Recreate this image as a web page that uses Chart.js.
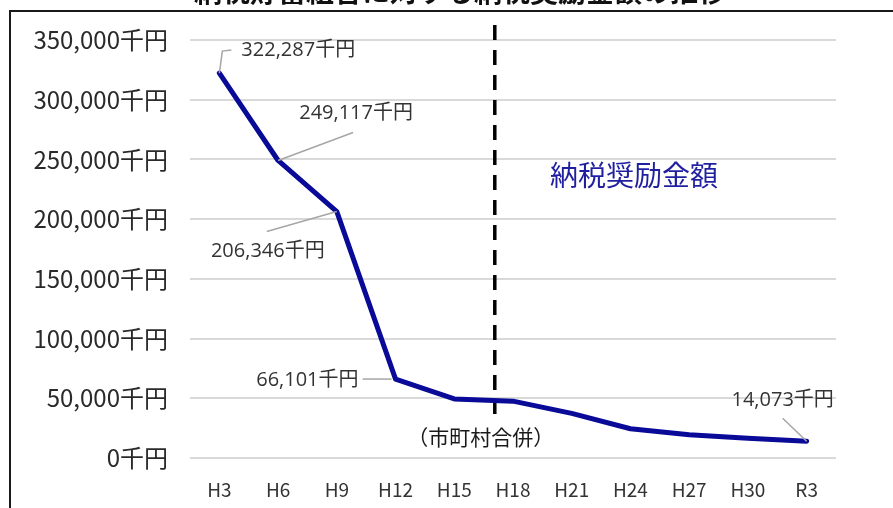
<!DOCTYPE html>
<html>
<head>
<meta charset="utf-8">
<script src="https://cdn.jsdelivr.net/npm/chart.js@4"></script>
<style>
html,body{margin:0;padding:0;background:#fff;}
#wrap{width:893px;height:508px;position:relative;}
</style>
</head>
<body>
<div id="wrap"><canvas id="c" width="893" height="508"></canvas></div>
<script>
// ---- data ----
const categories = ['H3','H6','H9','H12','H15','H18','H21','H24','H27','H30','R3'];
const amounts = [322287, 249117, 206346, 66101, 49500, 47600, 37400, 24500, 19500, 16500, 14073];
const yTickValues = [0, 50000, 100000, 150000, 200000, 250000, 300000, 350000];
const labeledIndexes = [0, 1, 2, 3, 10];
const seriesName = '納税奨励金額';
const mergerLabel = '（市町村合併）';
const mergerPosition = 4.69; // position on category axis (between H15 and H18)
const titleText = '納税貯蓄組合に対する納税奨励金額の推移';
const unit = '千円';

// ---- label layout (offsets from the data point, in px) ----
const labelLayout = {
  0: {leader: [[0,0],[3,-22],[12,-23]], text: [22,-23], align: 'left'},
  1: {leader: [[0,0],[75,-28]], text: [78,-47], align: 'center'},
  2: {leader: [[0,0],[-70,20]], text: [-69,40], align: 'center'},
  3: {leader: [[-33,0],[-4,0]], text: [-37,1], align: 'right'},
  10: {leader: [[0,0],[-24,-23]], text: [-24,-41], align: 'center'}
};

const fmt = v => v.toLocaleString('en-US') + unit;
const CJK = '"Noto Sans CJK JP", "Noto Sans", sans-serif';

const decorPlugin = {
  id: 'decor',
  beforeDraw(chart) {
    const ctx = chart.ctx;
    ctx.save();
    ctx.fillStyle = '#ffffff';
    ctx.fillRect(0, 0, chart.width, chart.height);
    // clipped title
    ctx.fillStyle = '#111111';
    ctx.font = 'bold 28px ' + CJK;
    ctx.textAlign = 'center';
    ctx.textBaseline = 'ideographic';
    ctx.fillText(titleText, 460, 5);
    // frame
    ctx.fillStyle = '#ffffff';
    ctx.fillRect(0, 10, chart.width, chart.height);
    ctx.strokeStyle = '#1a1a1a';
    ctx.lineWidth = 2;
    ctx.beginPath();
    ctx.moveTo(10, chart.height + 2);
    ctx.lineTo(10, 11);
    ctx.lineTo(chart.width + 2, 11);
    ctx.stroke();
    ctx.restore();
  },
  beforeDatasetsDraw(chart) {
    const ctx = chart.ctx;
    const xs = chart.scales.x;
    const x = xs.getPixelForValue(mergerPosition);
    ctx.save();
    ctx.strokeStyle = '#000000';
    ctx.lineWidth = 3.5;
    ctx.setLineDash([15, 10]);
    ctx.beginPath();
    ctx.moveTo(x, 25);
    ctx.lineTo(x, 414);
    ctx.stroke();
    ctx.setLineDash([]);
    // merger label
    ctx.fillStyle = '#1a1a1a';
    ctx.font = '21px ' + CJK;
    ctx.textAlign = 'center';
    ctx.textBaseline = 'middle';
    ctx.fillText(mergerLabel, x - 14, 437);
    // series annotation
    ctx.fillStyle = '#1f1f9f';
    ctx.font = '28px ' + CJK;
    ctx.fillText(seriesName, 634, 175);
    ctx.restore();
  },
  afterDatasetsDraw(chart) {
    const ctx = chart.ctx;
    const meta = chart.getDatasetMeta(0);
    ctx.save();
    labeledIndexes.forEach(i => {
      const p = meta.data[i];
      const L = labelLayout[i];
      ctx.strokeStyle = '#a6a6a6';
      ctx.lineWidth = 1.5;
      ctx.beginPath();
      L.leader.forEach((o, k) => {
        if (k === 0) ctx.moveTo(p.x + o[0], p.y + o[1]);
        else ctx.lineTo(p.x + o[0], p.y + o[1]);
      });
      ctx.stroke();
      ctx.fillStyle = '#333333';
      ctx.font = '20px "Open Sans", "Noto Sans CJK JP", sans-serif';
      ctx.textAlign = L.align;
      ctx.textBaseline = 'middle';
      ctx.fillText(fmt(amounts[i]), p.x + L.text[0], p.y + L.text[1]);
    });
    ctx.restore();
  }
};

new Chart(document.getElementById('c'), {
  type: 'line',
  data: {
    labels: categories,
    datasets: [{
      label: seriesName,
      data: amounts,
      borderColor: '#0a0a98',
      borderWidth: 5,
      pointRadius: 0,
      tension: 0,
      borderJoinStyle: 'round',
      borderCapStyle: 'round',
      fill: false
    }]
  },
  options: {
    responsive: false,
    animation: false,
    layout: {padding: {left: 0, right: 57, top: 40, bottom: 0}},
    plugins: {legend: {display: false}, tooltip: {enabled: false}, title: {display: false}},
    scales: {
      x: {
        type: 'category',
        offset: true,
        grid: {display: false, drawTicks: false},
        border: {display: false},
        ticks: {padding: 20, color: '#333333', font: {family: CJK, size: 19}, maxRotation: 0, autoSkip: false},
        afterFit(s) { s.height = 50; }
      },
      y: {
        min: 0,
        max: 350000,
        afterBuildTicks(s) { s.ticks = yTickValues.map(v => ({value: v})); },
        grid: {color: '#d9d9d9', lineWidth: 2, drawTicks: false},
        border: {display: false},
        ticks: {padding: 22, color: '#2a2a2a', font: {family: CJK, size: 24}, callback: v => fmt(v)},
        afterFit(s) { s.width = 190; }
      }
    }
  },
  plugins: [decorPlugin]
});
</script>
</body>
</html>
